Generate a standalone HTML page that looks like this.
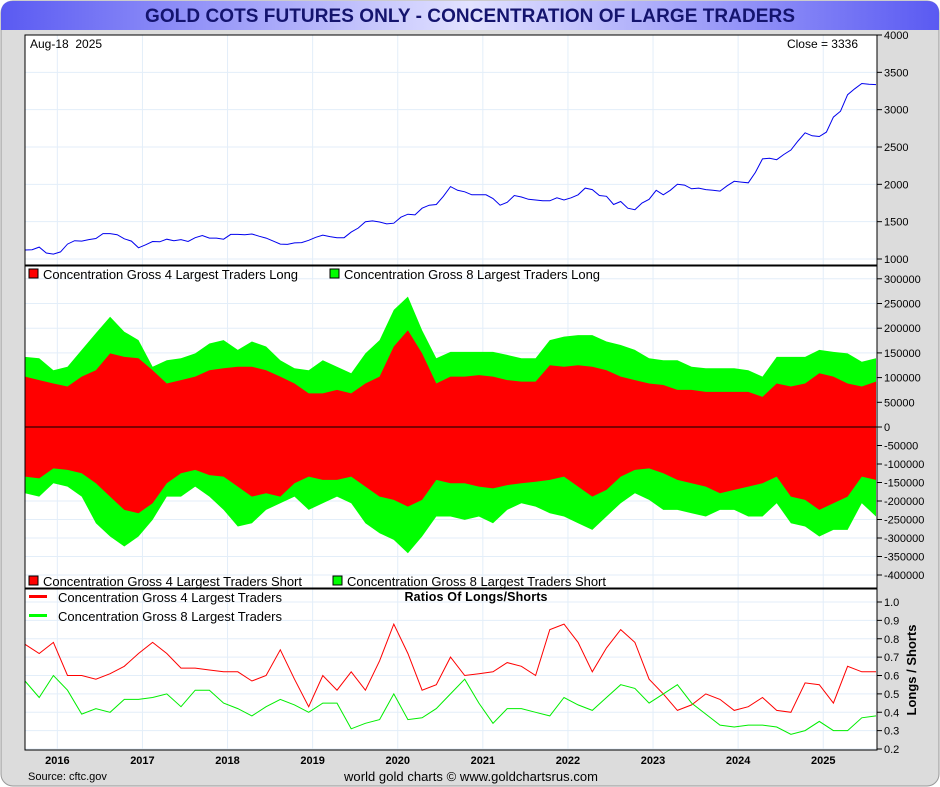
<!DOCTYPE html>
<html><head><meta charset="utf-8"><style>
html,body{margin:0;padding:0;background:#fff;}
svg{display:block;font-family:"Liberation Sans",Arial,sans-serif;}
</style></head><body>
<svg id="chart" width="940" height="787" viewBox="0 0 940 787">
<defs>
<linearGradient id="tg" x1="0" x2="1" y1="0" y2="0">
<stop offset="0" stop-color="#5a5af2"/><stop offset="0.5" stop-color="#e2e2ff"/><stop offset="1" stop-color="#5a5af2"/>
</linearGradient>
</defs>
<rect x="1" y="1" width="938" height="785" rx="12" fill="#dcdcdc" stroke="#999"/>
<path d="M1,13 Q1,1 13,1 L927,1 Q939,1 939,13 L939,30 L1,30 Z" fill="url(#tg)"/>
<text x="470" y="22" text-anchor="middle" font-size="19" font-weight="bold" fill="#14146e" textLength="650">GOLD COTS FUTURES ONLY - CONCENTRATION OF LARGE TRADERS</text>
<rect x="25" y="35" width="852" height="715" fill="#fff"/>
<g id="grid"></g>
<g id="marks"></g>
<g id="axes"></g>
<rect x="25" y="35" width="852" height="715" fill="none" stroke="#000" stroke-width="1"/>
<line x1="25" y1="265.5" x2="877" y2="265.5" stroke="#000" stroke-width="2"/>
<line x1="25" y1="588.5" x2="877" y2="588.5" stroke="#000" stroke-width="2"/>
<text x="30" y="48" font-size="12">Aug-18&#160; 2025</text>
<text x="858" y="48" font-size="12" text-anchor="end">Close = 3336</text>
<g>
<rect x="29" y="269" width="9" height="9" fill="#f00" stroke="#000"/>
<text x="43" y="279" font-size="13" textLength="255">Concentration Gross 4 Largest Traders Long</text>
<rect x="330" y="269" width="9" height="9" fill="#0f0" stroke="#000"/>
<text x="344" y="279" font-size="13" textLength="256">Concentration Gross 8 Largest Traders Long</text>
</g>
<g>
<rect x="29" y="576" width="9" height="9" fill="#f00" stroke="#000"/>
<text x="43" y="586" font-size="13" textLength="259">Concentration Gross 4 Largest Traders Short</text>
<rect x="333" y="576" width="9" height="9" fill="#0f0" stroke="#000"/>
<text x="347" y="586" font-size="13" textLength="259">Concentration Gross 8 Largest Traders Short</text>
</g>
<g>
<rect x="29" y="595" width="18" height="3" fill="#f00"/>
<text x="58" y="602" font-size="13" textLength="224">Concentration Gross 4 Largest Traders</text>
<rect x="29" y="614" width="18" height="3" fill="#0f0"/>
<text x="58" y="621" font-size="13" textLength="224">Concentration Gross 8 Largest Traders</text>
</g>
<text x="476" y="601" font-size="12.5" font-weight="bold" text-anchor="middle" textLength="143">Ratios Of Longs/Shorts</text>
<text transform="translate(916,670) rotate(-90)" font-size="13" font-weight="bold" text-anchor="middle">Longs / Shorts</text>
<text x="28" y="780" font-size="11">Source: cftc.gov</text>
<text x="471" y="781" font-size="13" text-anchor="middle" textLength="254">world gold charts © www.goldchartsrus.com</text>
</svg>
<script>
const goldPrice=[1120,1125,1160,1080,1065,
1095,1200,1245,1240,1260,1275,1340,1340,1325,1270,1240,1150,
1190,1235,1230,1265,1245,1260,1235,1285,1315,1280,1280,1265,
1330,1330,1325,1335,1305,1280,1240,1200,1195,1215,1220,1250,
1290,1320,1300,1285,1285,1360,1415,1500,1510,1495,1470,1480,
1560,1600,1590,1680,1720,1730,1840,1970,1920,1900,1860,1860,
1860,1810,1720,1760,1850,1830,1800,1790,1780,1780,1820,1790,
1820,1860,1950,1930,1850,1840,1730,1770,1680,1660,1750,1800,
1920,1860,1920,2000,1990,1940,1950,1930,1920,1910,1980,2040,
2030,2020,2160,2340,2350,2330,2400,2460,2580,2690,2650,2640,
2700,2900,2980,3200,3280,3350,3340,3336];
const long8=[142,139,115,122,156,190,223,193,176,122,135,139,149,169,176,156,173,163,135,119,115,135,122,109,149,176,237,264,196,139,152,
152,152,152,146,139,139,176,183,186,186,173,166,156,139,135,135,122,119,119,119,115,102,142,142,142,156,152,149,132,139];
const long4=[102,95,88,82,102,115,149,142,139,115,88,95,102,115,119,122,122,115,102,88,68,68,75,68,88,102,163,196,149,88,102,
102,105,102,95,92,92,125,122,125,122,115,102,95,88,85,75,75,71,71,71,71,61,88,82,88,109,102,88,82,92];
const short4=[-134,-139,-112,-116,-125,-152,-188,-224,-233,-206,-152,-125,-116,-130,-134,-161,-188,-179,-188,-152,-134,-143,-143,-134,-161,-188,-197,-215,-197,-143,-152,
-152,-161,-166,-157,-152,-148,-143,-134,-161,-188,-170,-134,-116,-112,-125,-143,-152,-161,-179,-170,-161,-152,-134,-188,-197,-224,-206,-188,-134,-143];
const short8=[-179,-188,-152,-161,-188,-260,-296,-323,-296,-251,-188,-188,-161,-188,-224,-269,-260,-224,-206,-188,-224,-206,-188,-206,-260,-287,-305,-341,-296,-242,-242,
-251,-242,-260,-224,-206,-215,-233,-242,-260,-278,-242,-206,-179,-197,-224,-224,-233,-242,-224,-224,-242,-242,-206,-260,-269,-296,-278,-278,-206,-242];
const ratio4=[0.77,0.72,0.78,0.6,0.6,0.58,0.61,0.65,0.72,0.78,0.72,0.64,0.64,0.63,0.62,0.62,0.57,0.6,0.74,0.58,0.43,0.6,0.52,0.62,0.52,0.68,0.88,0.72,0.52,0.55,0.7,
0.6,0.61,0.62,0.67,0.65,0.6,0.85,0.88,0.78,0.62,0.75,0.85,0.78,0.58,0.5,0.41,0.44,0.5,0.47,0.41,0.43,0.48,0.41,0.4,0.56,0.55,0.45,0.65,0.62,0.62];
const ratio8=[0.57,0.48,0.6,0.52,0.39,0.42,0.4,0.47,0.47,0.48,0.5,0.43,0.52,0.52,0.45,0.42,0.38,0.43,0.47,0.44,0.4,0.45,0.45,0.31,0.34,0.36,0.5,0.36,0.37,0.42,0.5,
0.58,0.45,0.34,0.42,0.42,0.4,0.38,0.48,0.44,0.41,0.48,0.55,0.53,0.45,0.5,0.55,0.45,0.39,0.33,0.32,0.33,0.33,0.32,0.28,0.3,0.35,0.3,0.3,0.37,0.38];
const years=[2016,2017,2018,2019,2020,2021,2022,2023,2024,2025];
const goldTicks=[1000,1500,2000,2500,3000,3500,4000];
const cotTicks=[300000,250000,200000,150000,100000,50000,0,-50000,-100000,-150000,-200000,-250000,-300000,-350000,-400000];
const ratioTicks=[0.2,0.3,0.4,0.5,0.6,0.7,0.8,0.9,1.0];

const NS='http://www.w3.org/2000/svg';
const T0=2015.62;
function xT(t){return 25+(t-T0)*85.1;}
function yGold(v){return 259-(v-1000)/3000*224;}
function yCot(v){return v>=0?427-v/50000*24.7:427-v/50000*18.5;}
function yRatio(v){return 749-(v-0.2)/0.8*147;}
function mk(tag,attrs,parent){const e=document.createElementNS(NS,tag);for(const k in attrs)e.setAttribute(k,attrs[k]);parent.appendChild(e);return e;}
const grid=document.getElementById('grid'),marks=document.getElementById('marks'),axes=document.getElementById('axes');
const gc='#e3eef9';
years.forEach(y=>{const l=mk('line',{x1:xT(y),x2:xT(y),y1:35,y2:750,stroke:gc},grid);


const t=mk('text',{x:xT(y),y:764,'font-size':11,'font-weight':'bold','text-anchor':'middle'},axes);t.textContent=y;

});
function hTicks(ticks,yf,fmt){ticks.forEach(v=>{const y=yf(v);
const l=mk('line',{x1:25,x2:877,y1:y,y2:y,stroke:gc},grid);


mk('line',{x1:877,x2:882,y1:y,y2:y,stroke:'#000'},axes);
const t=mk('text',{x:884,y:y+4,'font-size':11},axes);t.textContent=fmt(v);

});}
hTicks(goldTicks,yGold,v=>v);
hTicks(cotTicks,yCot,v=>v);
hTicks(ratioTicks,yRatio,v=>v.toFixed(1));
mk('line',{x1:877,x2:877,y1:35,y2:750,stroke:'#000'},axes);
let d='';goldPrice.forEach((v,i)=>{d+=(i?'L':'M')+xT(T0+i/12).toFixed(1)+','+yGold(v).toFixed(1);});
const gl=mk('path',{d:d,fill:'none',stroke:'#0000ee','stroke-width':1},marks);


function area(arr,color,name){let p='M'+xT(T0)+','+yCot(0);arr.forEach((v,i)=>{p+='L'+xT(T0+i/6).toFixed(1)+','+yCot(v*1000).toFixed(1);});
p+='L'+xT(T0+(arr.length-1)/6).toFixed(1)+','+yCot(0)+'Z';const a=mk('path',{d:p,fill:color},marks);

}
area(long8,'#00ff00','area-8-largest-long');
area(long4,'#ff0000','area-4-largest-long');
area(short8,'#00ff00','area-8-largest-short');
area(short4,'#ff0000','area-4-largest-short');
const zl=mk('line',{x1:25,x2:877,y1:yCot(0),y2:yCot(0),stroke:'#000'},marks);


function line(arr,color,name){let p='';arr.forEach((v,i)=>{p+=(i?'L':'M')+xT(T0+i/6).toFixed(1)+','+yRatio(v).toFixed(1);});
const l=mk('path',{d:p,fill:'none',stroke:color,'stroke-width':1},marks);

}
line(ratio4,'#ff0000','ratio-4-largest-line');
line(ratio8,'#00ee00','ratio-8-largest-line');
</script>
</body></html>
